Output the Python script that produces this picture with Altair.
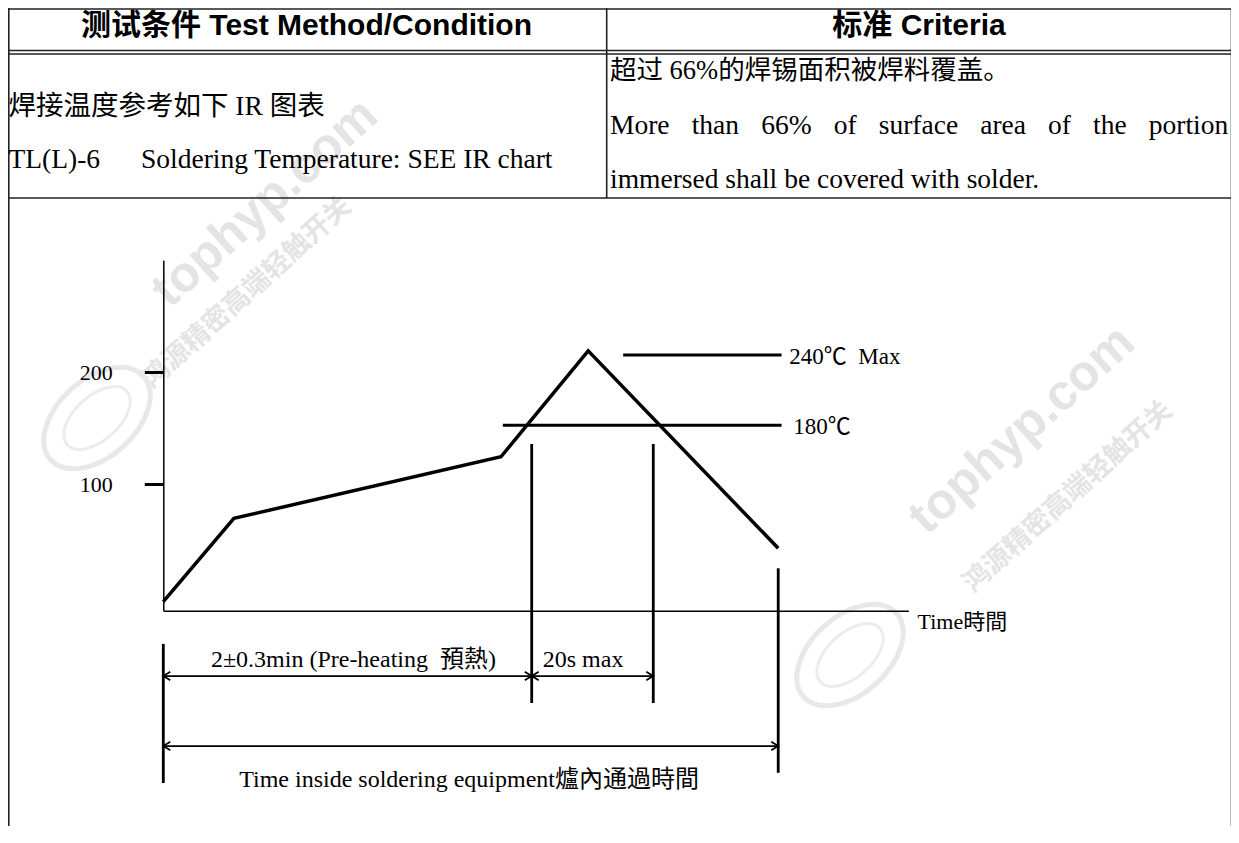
import altair as alt
import pandas as pd

W, H = 1223, 818
SERIF = "Liberation Serif, Noto Sans CJK SC"
SANS = "Liberation Sans, Noto Sans CJK SC"

# ---------------- reflow profile (schematic) ----------------
profile_time = [0.0, 23.0, 110.0, 138.4, 200.3]          # s
profile_temp = [-4.8, 69.6, 124.6, 219.2, 42.9]           # °C on the drawn axis
y_tick_values = [100, 200]

level_labels = ["240℃\u00a0\u00a0Max", "180℃"]
level_temp = [215.4, 152.7]
level_t_start = [149.8, 110.6]
level_t_end = [201.4, 201.4]
level_label_t = [203.9, 205.2]
level_label_temp = [213.7, 151.2]

marker_time = [120.0, 159.6, 200.3, 0.0]
marker_top = [136.0, 136.0, 25.0, -42.5]
marker_bottom = [-95.3, -95.3, -157.6, -166.7]

arrow_t_start = [0.0, 120.0, 0.0]
arrow_t_end = [120.0, 159.6, 200.3]
arrow_level = [-71.2, -71.2, -133.7]

span_labels = ["2±0.3min (Pre-heating\u00a0\u00a0預熱)", "20s max"]
span_label_t = [15.5, 123.6]
span_label_level = [-56.9, -56.9]
total_label = ["Time inside soldering equipment爐內通過時間"]
total_label_t = [99.6]
total_label_level = [-164.0]

# ---------------- table / page texts ----------------
header_texts = ["测试条件 Test Method/Condition", "标准 Criteria"]
header_x = [306.5, 919.0]
header_y = [26.0, 26.0]

body_texts = ["焊接温度参考如下 IR 图表", "TL(L)-6", "Soldering Temperature: SEE IR chart",
              "超过 66%的焊锡面积被焊料覆盖。",
              "More", "than", "66%", "of", "surface", "area", "of", "the", "portion",
              "immersed shall be covered with solder."]
body_x = [8.5, 8.5, 141.0, 610.0,
          610.0, 691.7, 761.2, 833.7, 878.7, 980.2, 1048.1, 1093.1, 1148.8,
          610.0]
body_y = [107, 160, 160, 71] + [126] * 9 + [180]
body_size = [27.5, 27.5, 27.5, 26.5] + [27.5] * 9 + [27.5]

rule_x = [8, 8, 8, 8, 8.8, 1231.5, 606.7]
rule_x2 = [1232, 1232, 1232, 1232, 8.8, 1231.5, 606.7]
rule_y = [9, 50.5, 54, 198, 8, 8, 8]
rule_y2 = [9, 50.5, 54, 198, 843, 843, 198]

# faint watermark
wm_texts = ["tophyp.com", "鸿源精密高端轻触开关", "tophyp.com", "鸿源精密高端轻触开关"]
wm_x = [265, 247, 1022, 1068]
wm_y = [203, 293, 430, 497]
wm_size = [50, 27, 50, 27]
logo_x = [97, 850]
logo_y = [418, 655]

# ---------------- scales ----------------
X0, KX = 163.3 - 8, 3.07
Y0, KY = 596.3 - 8, 1.12
t_dom = [0.0, 242.7]
T_dom = [-13.0, 300.0]
xs = alt.Scale(domain=t_dom, range=[X0 + KX * t_dom[0], X0 + KX * t_dom[1]], nice=False, zero=False)
ys = alt.Scale(domain=T_dom, range=[Y0 - KY * T_dom[0], Y0 - KY * T_dom[1]], nice=False, zero=False)
x_axis_y = Y0 - KY * T_dom[0]

px = alt.Scale(domain=[8, 8 + W], range=[0, W], nice=False, zero=False)
py = alt.Scale(domain=[8, 8 + H], range=[0, H], nice=False, zero=False)

# ---------------- plot layers ----------------
prof_df = pd.DataFrame({"t": profile_time, "T": profile_temp})
curve = alt.Chart(prof_df).mark_line(color="black", strokeWidth=3.5, strokeJoin="miter").encode(
    x=alt.X("t:Q", scale=xs, axis=alt.Axis(
        orient="bottom", offset=x_axis_y - H, ticks=False, labels=False, grid=False, zindex=1,
        domainColor="black", domainWidth=1.5, title="Time時間", titleX=909, titleY=11,
        titleAlign="left", titleBaseline="middle", titleAngle=0, titleFont=SERIF, titleFontSize=22,
        titleFontWeight="normal", titleColor="black")),
    y=alt.Y("T:Q", scale=ys, axis=alt.Axis(
        orient="left", offset=-X0, values=y_tick_values, grid=False, title=None, zindex=1,
        domainColor="black", domainWidth=1.5, tickColor="black", tickSize=19, tickWidth=3,
        labelFont=SERIF, labelFontSize=22, labelColor="black", labelPadding=32, labelFlush=False)))

lvl_df = pd.DataFrame({"t": level_t_start, "t2": level_t_end, "T": level_temp})
levels = alt.Chart(lvl_df).mark_rule(color="black", strokeWidth=3).encode(
    x=alt.X("t:Q", scale=xs, axis=None), x2="t2:Q", y=alt.Y("T:Q", scale=ys, axis=None))

lvl_lab_df = pd.DataFrame({"text": level_labels, "t": level_label_t, "T": level_label_temp})
level_text = alt.Chart(lvl_lab_df).mark_text(font=SERIF, fontSize=23, align="left", baseline="middle",
                                             color="black").encode(
    x=alt.X("t:Q", scale=xs, axis=None), y=alt.Y("T:Q", scale=ys, axis=None), text="text:N")

mk_df = pd.DataFrame({"t": marker_time, "T": marker_top, "T2": marker_bottom})
markers = alt.Chart(mk_df).mark_rule(color="black", strokeWidth=2.8).encode(
    x=alt.X("t:Q", scale=xs, axis=None), y=alt.Y("T:Q", scale=ys, axis=None), y2="T2:Q")

ar_df = pd.DataFrame({"t": arrow_t_start, "t2": arrow_t_end, "T": arrow_level})
arrows = alt.Chart(ar_df).mark_rule(color="black", strokeWidth=1.8).encode(
    x=alt.X("t:Q", scale=xs, axis=None), x2="t2:Q", y=alt.Y("T:Q", scale=ys, axis=None))
heads_r = alt.Chart(ar_df).mark_point(shape="M -1 -0.6 L 0 0 L -1 0.6", filled=False, color="black",
                                      strokeWidth=1.8, size=196, opacity=1).encode(
    x=alt.X("t2:Q", scale=xs, axis=None), y=alt.Y("T:Q", scale=ys, axis=None))
heads_l = alt.Chart(ar_df).mark_point(shape="M 1 -0.6 L 0 0 L 1 0.6", filled=False, color="black",
                                      strokeWidth=1.8, size=196, opacity=1).encode(
    x=alt.X("t:Q", scale=xs, axis=None), y=alt.Y("T:Q", scale=ys, axis=None))

span_df = pd.DataFrame({"text": span_labels, "t": span_label_t, "T": span_label_level})
span_text = alt.Chart(span_df).mark_text(font=SERIF, fontSize=24, align="left", baseline="middle",
                                         color="black").encode(
    x=alt.X("t:Q", scale=xs, axis=None), y=alt.Y("T:Q", scale=ys, axis=None), text="text:N")
tot_df = pd.DataFrame({"text": total_label, "t": total_label_t, "T": total_label_level})
tot_text = alt.Chart(tot_df).mark_text(font=SERIF, fontSize=24, align="center", baseline="middle",
                                       color="black").encode(
    x=alt.X("t:Q", scale=xs, axis=None), y=alt.Y("T:Q", scale=ys, axis=None), text="text:N")

# ---------------- page layers ----------------
wm_df = pd.DataFrame({"text": wm_texts, "x": wm_x, "y": wm_y, "s": wm_size})
watermark = alt.Chart(wm_df).mark_text(font=SANS, fontWeight="bold", angle=318, align="center",
                                       baseline="middle", color="#e4e4e4").encode(
    x=alt.X("x:Q", scale=px, axis=None), y=alt.Y("y:Q", scale=py, axis=None), text="text:N",
    size=alt.Size("s:Q", scale=None))

logo_df = pd.DataFrame({"x": logo_x, "y": logo_y})
logo_outer = alt.Chart(logo_df).mark_point(
    shape="M -1 0 A 1 0.62 0 1 0 1 0 A 1 0.62 0 1 0 -1 0", filled=False, color="#e8e8e8",
    strokeWidth=5, size=15600, angle=318, opacity=1).encode(
    x=alt.X("x:Q", scale=px, axis=None), y=alt.Y("y:Q", scale=py, axis=None))
logo_inner = alt.Chart(logo_df).mark_point(
    shape="M -1 0 A 1 0.55 0 1 0 1 0 A 1 0.55 0 1 0 -1 0", filled=False, color="#ececec",
    strokeWidth=3, size=6400, angle=318, opacity=1).encode(
    x=alt.X("x:Q", scale=px, axis=None), y=alt.Y("y:Q", scale=py, axis=None))

rules_df = pd.DataFrame({"x": rule_x, "x2": rule_x2, "y": rule_y, "y2": rule_y2})
page_rules = alt.Chart(rules_df).mark_rule(color="#222222", strokeWidth=1.6).encode(
    x=alt.X("x:Q", scale=px, axis=None), x2="x2:Q",
    y=alt.Y("y:Q", scale=py, axis=None), y2="y2:Q")

hdr_df = pd.DataFrame({"text": header_texts, "x": header_x, "y": header_y})
page_hdr = alt.Chart(hdr_df).mark_text(font=SANS, fontSize=30, fontWeight="bold", align="center",
                                       baseline="middle", color="black").encode(
    x=alt.X("x:Q", scale=px, axis=None), y=alt.Y("y:Q", scale=py, axis=None), text="text:N")

body_df = pd.DataFrame({"text": body_texts, "x": body_x, "y": body_y, "s": body_size})
page_body = alt.Chart(body_df).mark_text(font=SERIF, align="left", baseline="middle", color="black").encode(
    x=alt.X("x:Q", scale=px, axis=None), y=alt.Y("y:Q", scale=py, axis=None), text="text:N",
    size=alt.Size("s:Q", scale=None))

chart = alt.layer(
    curve, watermark, logo_outer, logo_inner, levels, level_text, markers, arrows, heads_r, heads_l,
    span_text, tot_text, page_rules, page_hdr, page_body
).resolve_scale(x="independent", y="independent").properties(
    width=W, height=H, padding=0, autosize=alt.AutoSizeParams(type="none"),
    background="white").configure_view(strokeWidth=0)

chart.save("out.html", embed_options={"renderer": "svg", "actions": False})
